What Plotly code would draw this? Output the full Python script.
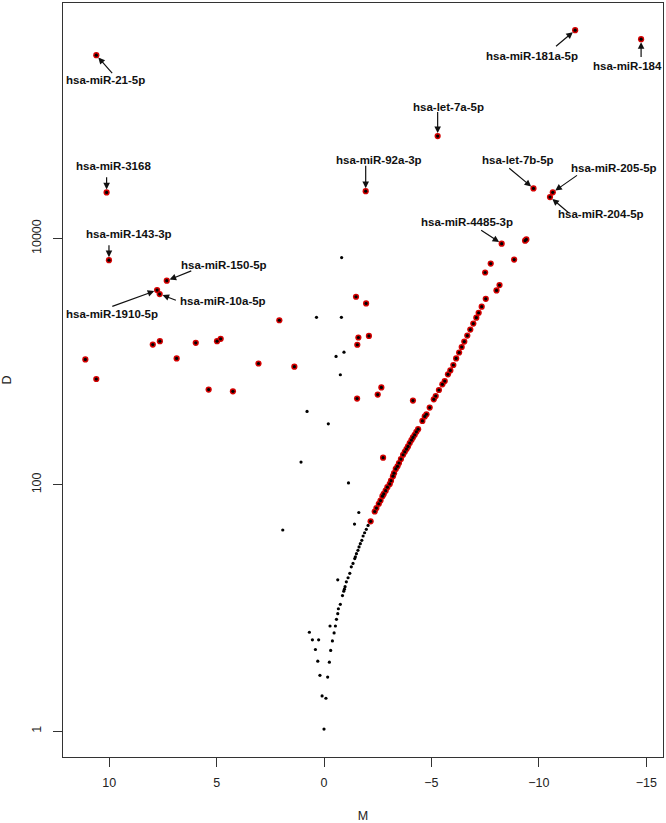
import math
import plotly.graph_objects as go

# ---------------- data ----------------
# non-significant miRNAs (black)
ns_M = [0.35, -0.81, -0.82, -0.93, -0.56, -0.76, 0.79, -0.20, 1.07, -1.14, -1.62, -1.42, 1.92, -0.64,
        -2.05, -1.97, -1.89, -1.82, -1.76, -1.69, -1.63, -1.58, -1.51, -1.46, -1.43, -1.35, -1.27,
        -1.20, -1.12, -1.04, -0.98, -0.92, -0.86, -0.95, -0.76, -0.67, -0.64, -0.58, -0.53, -0.28,
        -0.47, -0.39, -0.31, -0.25, -0.17, -0.09, 0.09, 0.19, 0.29, 0.40, 0.54, 0.25, 0.68, 0.0]
ns_D = [2291, 2291, 6998, 1194, 1102, 783, 394, 313, 153, 103.5, 59.6, 48.0, 42.95, 16.94,
        46.8, 43.5, 40.8, 38.4, 35.4, 33.3, 31.3, 29.4, 27.6, 26.0, 25.2, 23.0, 21.6,
        19.1, 17.6, 16.3, 14.9, 13.7, 12.6, 14.2, 10.7, 9.86, 8.99, 8.09, 7.14, 7.14,
        6.27, 5.40, 4.52, 3.63, 2.75, 1.85, 1.93, 2.84, 3.70, 4.60, 5.51, 5.51, 6.35, 1.04]

# significant miRNAs (red), unlabelled
sig_M = [11.11, 10.60, 7.97, 7.64, 6.86, 5.97, 4.98, 4.81, 5.37, 4.24, 3.05, 2.08, 1.38,
         -1.49, -1.96, -1.60, -2.09, -1.55, -2.67, -2.50, -1.54, -4.14, -2.75,
         -2.17, -2.36, -2.44, -2.55, -2.63, -2.72, -2.78, -2.87, -2.95, -3.06, -3.12, -3.21,
         -3.26, -3.34, -3.42, -3.49, -3.58, -3.68, -3.76, -3.84, -3.91, -3.99, -4.07, -4.14,
         -4.22, -4.30, -4.38, -4.58, -4.69, -4.77, -4.92, -5.11, -5.20, -5.35, -5.51, -5.62,
         -5.77, -5.88, -6.02, -6.15, -6.29, -6.41, -6.53, -6.67, -6.81, -6.95, -7.09, -7.20,
         -7.34, -7.53, -7.50, -7.76, -8.03, -8.17, -8.85, -9.36, -9.42]
sig_D = [1042, 723, 1377, 1466, 1062, 1422, 1466, 1531, 593, 574, 966, 2168, 910,
         3365, 2972, 1570, 1618, 1371, 618, 540, 501, 483, 166,
         50.5, 60.7, 64.7, 70.2, 74.5, 80.9, 84.3, 89.7, 95.7, 101.6, 108.1, 117.5,
         124.2, 134.6, 141.3, 150.3, 161.8, 175.4, 185.4, 195.0, 205.1, 218.3, 230.7, 242.7,
         254.7, 269.2, 283.1, 330.4, 358.9, 374.1, 423.6, 494.3, 526.0, 588.8, 654.6, 695.0,
         788.9, 849.2, 939.7, 1062, 1186, 1315, 1455, 1629, 1820, 2037, 2275, 2495,
         2793, 3236, 5297, 6252, 3784, 4188, 6745, 9594, 9817]

# labelled significant miRNAs
lab_names = ["hsa-miR-21-5p", "hsa-miR-3168", "hsa-miR-143-3p", "hsa-miR-150-5p",
             "hsa-miR-1910-5p", "hsa-miR-10a-5p", "hsa-miR-181a-5p", "hsa-miR-184",
             "hsa-let-7a-5p", "hsa-miR-92a-3p", "hsa-let-7b-5p", "hsa-miR-205-5p",
             "hsa-miR-204-5p", "hsa-miR-4485-3p"]
lab_M = [10.60, 10.12, 10.01, 7.32, 7.77, 7.65, -11.69, -14.76, -5.29, -1.94, -9.75, -10.65, -10.52, -8.27]
lab_D = [308000, 23660, 6670, 4540, 3810, 3540, 491000, 415000, 67800, 24200, 25500, 23700, 21700, 9080]

# label placement (pixels, relative to the point): text shift (x right, y up) and arrow tail
lab_text_xshift = [9.3, 6.7, 20, 57, -44.8, 63, -43.6, -13.6, 11.3, 13.3, -15.4, 61, 51.4, -34.3]
lab_text_yshift = [-25, 26.3, 26.3, 15.3, -24, -6.7, -25.7, -26.7, 29, 31.7, 28.3, 24, -17, 21.4]
lab_arrow_ax = [16.3, 0, 0, 25, -45.3, 16.7, -19.6, 0, 0, 0, -24.7, 24.7, 19.4, -21]
lab_arrow_ay = [18.4, -15.6, -15.3, -10, 16.4, 6.4, 16.4, 18.4, -24.7, -26, -20.6, -17.3, 16.3, -13.7]

x_tick_vals = [10, 5, 0, -5, -10, -15]
x_tick_text = ["10", "5", "0", "\u22125", "\u221210", "\u221215"]
y_tick_vals = [1, 100, 10000]
y_tick_text = ["1", "100", "10000"]

# ---------------- figure ----------------
red_M = sig_M + lab_M
red_D = sig_D + lab_D
all_M = ns_M + red_M
all_D = ns_D + red_D

fig = go.Figure()
fig.add_trace(go.Scatter(x=red_M, y=red_D, mode="markers",
                         marker=dict(color="#d40000", size=6.2, line=dict(width=0)),
                         hoverinfo="skip", showlegend=False))
fig.add_trace(go.Scatter(x=all_M, y=all_D, mode="markers",
                         marker=dict(color="#000000", size=3.2, line=dict(width=0)),
                         showlegend=False))

font_lab = dict(family="Liberation Sans, Arial, sans-serif", size=11.5, color="#111111")
for i, name in enumerate(lab_names):
    ly = math.log10(lab_D[i])
    fig.add_annotation(x=lab_M[i], y=ly, xref="x", yref="y", text="",
                       showarrow=True, ax=lab_arrow_ax[i], ay=lab_arrow_ay[i],
                       arrowhead=2, arrowsize=1.1, arrowwidth=1.2, arrowcolor="#111111",
                       standoff=3, borderpad=0)
    fig.add_annotation(x=lab_M[i], y=ly, xref="x", yref="y",
                       text="<b>" + name + "</b>", showarrow=False,
                       xshift=lab_text_xshift[i], yshift=lab_text_yshift[i],
                       font=font_lab, xanchor="center", yanchor="middle")

axis_font = dict(family="Liberation Sans, Arial, sans-serif", size=12.5, color="#222222")
fig.update_layout(
    width=666, height=823,
    margin=dict(l=63, r=3, t=2, b=64),
    paper_bgcolor="white", plot_bgcolor="white",
    font=axis_font,
    xaxis=dict(range=[12.15, -15.78], tickvals=x_tick_vals, ticktext=x_tick_text,
               showgrid=False, zeroline=False, showline=True, mirror=True,
               linecolor="#333333", linewidth=1, ticks="outside", ticklen=9,
               tickcolor="#333333", tickfont=axis_font, ticklabelstandoff=5,
               title=dict(text="M", font=axis_font, standoff=22)),
    yaxis=dict(type="log", range=[-0.21, 5.912], tickvals=y_tick_vals, ticktext=y_tick_text,
               showgrid=False, zeroline=False, showline=True, mirror=True,
               linecolor="#333333", linewidth=1, ticks="outside", ticklen=9,
               tickcolor="#333333", tickfont=axis_font, tickangle=-90, ticklabelstandoff=7,
               title=dict(text="D", font=axis_font, standoff=16)),
)

fig.write_html("out.html", config={"displayModeBar": False},
               post_script="document.body.style.margin='0px';document.body.style.overflow='hidden';")
